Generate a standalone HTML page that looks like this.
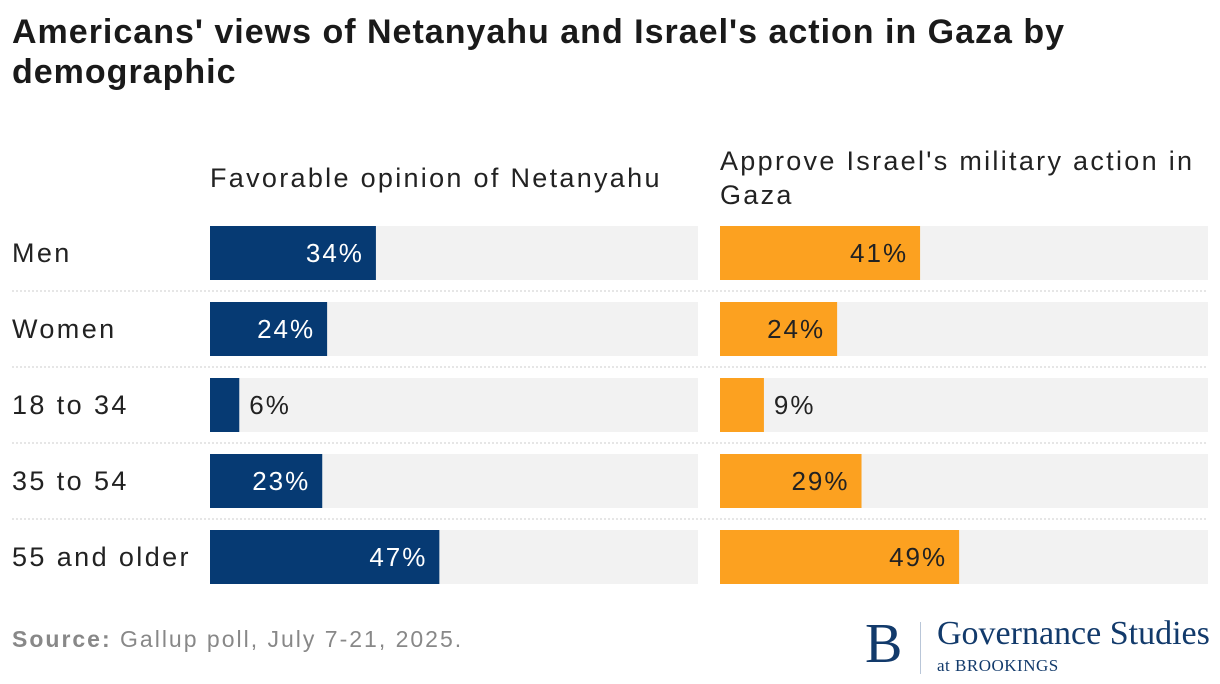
<!DOCTYPE html>
<html><head><meta charset="utf-8"><style>
body{margin:0;width:1220px;height:684px;background:#fff;font-family:"Liberation Sans",sans-serif;position:relative;overflow:hidden;color:#1a1a1a}
.t{position:absolute;left:12px;top:12px;font-size:34px;font-weight:bold;line-height:40px;width:1100px;letter-spacing:1px}
.h{position:absolute;font-size:27px;line-height:34px;color:#222;letter-spacing:2.3px}
.src{position:absolute;left:12px;top:626px;font-size:23px;color:#888;letter-spacing:2px}
</style></head><body>
<div class="t">Americans' views of Netanyahu and Israel's action in Gaza by demographic</div>
<div class="h" style="left:210px;top:161px">Favorable opinion of Netanyahu</div>
<div class="h" style="left:720px;top:144px;width:490px">Approve Israel's military action in Gaza</div>
<svg id="c" width="1220" height="684" style="position:absolute;left:0;top:0"></svg>
<div class="src"><b>Source:</b> Gallup poll, July 7-21, 2025.</div>
<div style="position:absolute;left:865px;top:618px;width:355px;height:66px;font-family:'Liberation Serif',serif;color:#123a6b">
<div style="position:absolute;left:0;top:-6px;font-size:56px">B</div>
<div style="position:absolute;left:55px;top:4px;width:1px;height:52px;background:#b9c6d8"></div>
<div style="position:absolute;left:72px;top:-3px;font-size:34px">Governance Studies</div>
<div style="position:absolute;left:72px;top:38px;font-size:17px;letter-spacing:0.5px">at BROOKINGS</div>
</div>
<script>
const categories=["Men","Women","18 to 34","35 to 54","55 and older"];
const netanyahu=[34,24,6,23,47];
const gaza=[41,24,9,29,49];
const svg=document.getElementById('c');const NS='http://www.w3.org/2000/svg';
const W=488,top0=226,pitch=76,bh=54;
const x=(v,x0)=>x0+v/100*W;
function mk(t,a){const e=document.createElementNS(NS,t);for(const k in a)e.setAttribute(k,a[k]);svg.appendChild(e);return e;}
categories.forEach((c,i)=>{
 const y=top0+i*pitch;
 const l=mk('text',{x:12,y:y+bh/2+9,'font-size':27,fill:'#222','letter-spacing':2.4});l.textContent=c;
 
 
 if(i>0){const s=mk('line',{x1:12,x2:1208,y1:y-11,y2:y-11,stroke:'#ccc','stroke-dasharray':'2,2'});
 
 }
 [[netanyahu,210,'#063a73','#fff'],[gaza,720,'#fca120','#222']].forEach(([arr,x0,col,tc],j)=>{
  const bg=mk('rect',{x:x0,y:y,width:W,height:bh,fill:'#f2f2f2'});
  
  
  const v=arr[i],xe=x(v,x0);
  const b=mk('rect',{x:x0,y:y,width:xe-x0,height:bh,fill:col});
  
  
  const inside=v>15;
  const t=mk('text',{x:inside?xe-12:xe+10,y:y+bh/2+9,'font-size':26,fill:inside?tc:'#222','text-anchor':inside?'end':'start','letter-spacing':2});
  t.textContent=v+'%';
  
  
 });
});
</script>
</body></html>
